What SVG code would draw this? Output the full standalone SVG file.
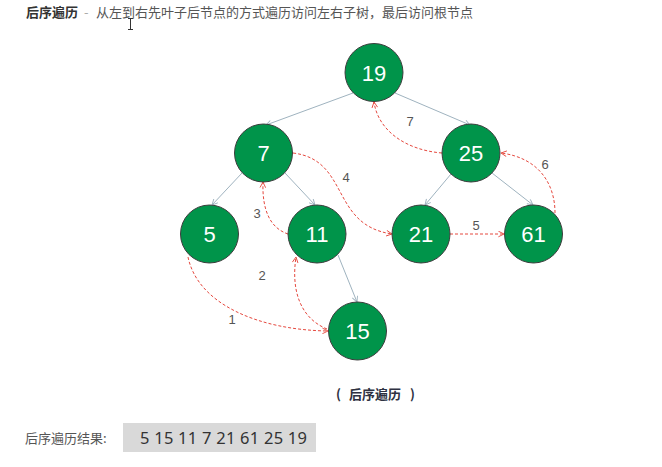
<svg xmlns="http://www.w3.org/2000/svg" width="662" height="467" viewBox="0 0 662 467">
<defs>
<marker id="ag" viewBox="0 0 10 10" refX="9" refY="5" markerWidth="7" markerHeight="7" markerUnits="userSpaceOnUse" orient="auto">
<path d="M1,1 L9,5 L1,9" fill="none" stroke="#9fb3bf" stroke-width="1.3"/>
</marker>
<marker id="ar" viewBox="0 0 10 10" refX="9" refY="5" markerWidth="7" markerHeight="7" markerUnits="userSpaceOnUse" orient="auto">
<path d="M1,1 L9,5 L1,9" fill="none" stroke="#e5483e" stroke-width="1.3"/>
</marker>
<style>
.node circle{fill:#00944a;stroke:#3d3d3d;stroke-width:1}
.node text{fill:#fff;font-family:"Liberation Sans",Arial,sans-serif;font-size:22px;text-anchor:middle}
.e{fill:none;stroke:#9fb3bf;stroke-width:1;marker-end:url(#ag)}
.r{fill:none;stroke:#e5483e;stroke-width:1;stroke-dasharray:3,2;marker-end:url(#ar)}
.lbl{fill:#555;font-family:"Liberation Sans",Arial,sans-serif;font-size:13px;text-anchor:middle}
.cn{font-family:"Noto Sans CJK SC",sans-serif;font-size:13px}
</style>
</defs>
<rect width="662" height="467" fill="#fff"/>
<text x="26" y="17" class="cn" font-weight="bold" fill="#333">后序遍历</text>
<text x="84" y="17" class="cn" fill="#aaa">-</text>
<text x="96" y="17" class="cn" fill="#555">从左到右先叶子后节点的方式遍历访问左右子树，最后访问根节点</text>
<g id="cursor" stroke="#333" stroke-width="1" fill="none">
<path d="M128,18.5 H133 M130.5,18.5 V29.5 M128,29.5 H133"/>
</g>
<g id="connectors">
<path class="e" d="M353,93 L266,125"/>
<path class="e" d="M395,93 L470,125"/>
<path class="e" d="M242,173 L212,205"/>
<path class="e" d="M285,173 L315,205"/>
<path class="e" d="M451,174 L425,205"/>
<path class="e" d="M492,173 L533,205"/>
<path class="e" d="M338,255 L357,302"/>
<path class="r" d="M188,257 C198,305 260,330 328,331"/>
<path class="r" d="M327,329 C300,318 291,290 296,257"/>
<path class="r" d="M288,234 C270,228 262,210 263,182"/>
<path class="r" d="M293,153 C350,160 330,225 392,234"/>
<path class="r" d="M450,234 L504,234"/>
<path class="r" d="M555,213 C555,185 540,158 501,153"/>
<path class="r" d="M442,153 C405,150 378,130 374,102"/>
<text class="lbl" x="232" y="324">1</text>
<text class="lbl" x="262" y="280">2</text>
<text class="lbl" x="257" y="218">3</text>
<text class="lbl" x="346" y="182">4</text>
<text class="lbl" x="476" y="230">5</text>
<text class="lbl" x="545" y="169">6</text>
<text class="lbl" x="410" y="126">7</text>
</g>
<g id="n19" class="node"><circle cx="374" cy="72.5" r="29"/><text x="374" y="80.5">19</text></g>
<g id="n7" class="node"><circle cx="263.5" cy="153" r="29"/><text x="263.5" y="161">7</text></g>
<g id="n25" class="node"><circle cx="471" cy="153" r="29"/><text x="471" y="161">25</text></g>
<g id="n5" class="node"><circle cx="209.5" cy="234" r="29"/><text x="209.5" y="242">5</text></g>
<g id="n11" class="node"><circle cx="317" cy="234" r="29"/><text x="317" y="242">11</text></g>
<g id="n21" class="node"><circle cx="421" cy="234" r="29"/><text x="421" y="242">21</text></g>
<g id="n61" class="node"><circle cx="533.5" cy="234" r="29"/><text x="533.5" y="242">61</text></g>
<g id="n15" class="node"><circle cx="357.5" cy="331" r="29"/><text x="357.5" y="339">15</text></g>
<text x="336" y="399" class="cn" font-weight="bold" fill="#2e3142">(</text>
<text x="349" y="399" class="cn" font-weight="bold" fill="#2e3142">后序遍历</text>
<text x="410" y="399" class="cn" font-weight="bold" fill="#2e3142">)</text>
<text x="25" y="443" class="cn" fill="#555">后序遍历结果:</text>
<rect x="123" y="423" width="193" height="29" fill="#d9d9d9"/>
<text x="140" y="443.5" fill="#333" font-family="'Noto Sans','Open Sans',sans-serif" font-size="16.5" textLength="167">5 15 11 7 21 61 25 19</text>
</svg>
